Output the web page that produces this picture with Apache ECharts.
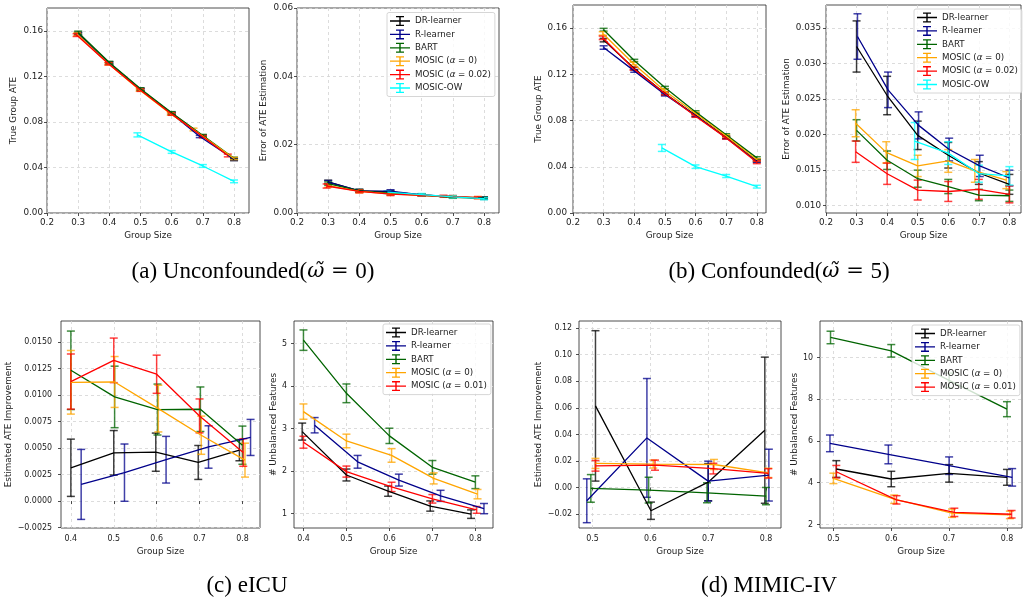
<!DOCTYPE html>
<html><head><meta charset="utf-8">
<script src="https://cdn.jsdelivr.net/npm/echarts@6/dist/echarts.min.js"></script>
<style>html,body{margin:0;padding:0;background:#fff}#c{width:1023px;height:602px}</style>
</head><body><div id="c"></div>
<script>
// ---------- names / colours ----------
const NAMES_TOP = ['DR-learner','R-learner','BART','MOSIC (α = 0)','MOSIC (α = 0.02)','MOSIC-OW'];
const NAMES_BOT = ['DR-learner','R-learner','BART','MOSIC (α = 0)','MOSIC (α = 0.01)'];
const COLORS = ['#000000','#00008b','#006400','#ffa500','#ff0000','#00ffff'];

// ---------- tick values ----------
const xTicksAB = [0.2,0.3,0.4,0.5,0.6,0.7,0.8];
const xTicksC = [0.4,0.5,0.6,0.7,0.8];
const xTicksD = [0.5,0.6,0.7,0.8];
const yTicksATE = [0,0.04,0.08,0.12,0.16];
const yTicksAR = [0,0.02,0.04,0.06];
const yTicksBR = [0.010,0.015,0.020,0.025,0.030,0.035];
const yTicksCL = [-0.0025,0,0.0025,0.005,0.0075,0.01,0.0125,0.015];
const yTicksCR = [1,2,3,4,5];
const yTicksDL = [-0.02,0,0.02,0.04,0.06,0.08,0.10,0.12];
const yTicksDR = [2,4,6,8,10];

// ---------- data: [x, mean, err] ----------
// (a) left: True Group ATE, unconfounded
const aL_dr   = [[0.3,0.1575,0.0012],[0.4,0.1315,0.0010],[0.5,0.1085,0.0010],[0.6,0.0875,0.0010],[0.7,0.0675,0.0010],[0.8,0.0470,0.0010]];
const aL_r    = [[0.3,0.1572,0.0012],[0.4,0.1318,0.0010],[0.5,0.1085,0.0010],[0.6,0.0872,0.0010],[0.69,0.0672,0.0010],[0.8,0.0472,0.0010]];
const aL_bart = [[0.3,0.1585,0.0012],[0.4,0.1322,0.0010],[0.5,0.1090,0.0010],[0.6,0.0880,0.0010],[0.7,0.0680,0.0010],[0.8,0.0480,0.0010]];
const aL_m0   = [[0.297,0.1570,0.0012],[0.397,0.1310,0.0010],[0.497,0.1080,0.0010],[0.597,0.0870,0.0010],[0.67,0.0733,0.0012],[0.8,0.0478,0.0010]];
const aL_m2   = [[0.295,0.1562,0.0012],[0.397,0.1310,0.0010],[0.5,0.1078,0.0010],[0.6,0.0868,0.0010],[0.7,0.0670,0.0010],[0.78,0.0505,0.0012]];
const aL_ow   = [[0.49,0.0686,0.0018],[0.6,0.0536,0.0012],[0.7,0.0413,0.0012],[0.8,0.0278,0.0012]];
// (a) right: Error of ATE Estimation
const aR_dr   = [[0.3,0.0091,0.0005],[0.4,0.0065,0.0004],[0.5,0.0062,0.0004],[0.6,0.0053,0.0003],[0.7,0.0047,0.0003],[0.8,0.0044,0.0003]];
const aR_r    = [[0.3,0.0090,0.0005],[0.4,0.0065,0.0004],[0.5,0.0064,0.0004],[0.6,0.0053,0.0003],[0.7,0.0048,0.0003],[0.8,0.0043,0.0003]];
const aR_bart = [[0.3,0.0086,0.0005],[0.4,0.0065,0.0004],[0.5,0.0058,0.0004],[0.6,0.0052,0.0003],[0.7,0.0046,0.0003],[0.8,0.0043,0.0003]];
const aR_m0   = [[0.3,0.0080,0.0005],[0.4,0.0063,0.0004],[0.5,0.0056,0.0004],[0.6,0.0052,0.0003],[0.7,0.0048,0.0003],[0.78,0.0045,0.0003]];
const aR_m2   = [[0.295,0.0079,0.0006],[0.4,0.0063,0.0004],[0.5,0.0055,0.0004],[0.6,0.0052,0.0003],[0.67,0.0049,0.0003],[0.78,0.0045,0.0003]];
const aR_ow   = [[0.49,0.0061,0.0004],[0.6,0.0054,0.0003],[0.7,0.0047,0.0003],[0.8,0.0042,0.0003]];
// (b) left: True Group ATE, confounded
const bL_dr   = [[0.3,0.1496,0.0015],[0.4,0.1250,0.0012],[0.5,0.1034,0.0012],[0.6,0.0845,0.0010],[0.7,0.0655,0.0010],[0.8,0.0453,0.0010]];
const bL_r    = [[0.3,0.1432,0.0015],[0.4,0.1230,0.0012],[0.5,0.1025,0.0012],[0.6,0.0843,0.0010],[0.7,0.0652,0.0010],[0.8,0.0448,0.0010]];
const bL_bart = [[0.3,0.1586,0.0012],[0.4,0.1320,0.0010],[0.5,0.1086,0.0010],[0.6,0.0875,0.0010],[0.7,0.0676,0.0010],[0.8,0.0477,0.0010]];
const bL_m0   = [[0.297,0.1554,0.0015],[0.397,0.1294,0.0012],[0.497,0.1063,0.0012],[0.6,0.0861,0.0010],[0.7,0.0667,0.0010],[0.8,0.0460,0.0010]];
const bL_m2   = [[0.297,0.1516,0.0015],[0.397,0.1250,0.0012],[0.5,0.1034,0.0012],[0.6,0.0838,0.0010],[0.7,0.0650,0.0010],[0.8,0.0439,0.0012]];
const bL_ow   = [[0.49,0.0563,0.0030],[0.6,0.0401,0.0015],[0.7,0.0320,0.0013],[0.8,0.0228,0.0012]];
// (b) right: Error of ATE Estimation
const bR_dr   = [[0.3,0.0324,0.0036],[0.4,0.0255,0.0027],[0.5,0.0199,0.0020],[0.6,0.0171,0.0018],[0.7,0.0146,0.0016],[0.8,0.0130,0.0014]];
const bR_r    = [[0.303,0.0338,0.0032],[0.403,0.0263,0.0025],[0.503,0.0213,0.0019],[0.603,0.0179,0.0016],[0.703,0.0156,0.0015],[0.8,0.0139,0.0011]];
const bR_bart = [[0.3,0.0206,0.0015],[0.4,0.0164,0.0013],[0.5,0.0138,0.0012],[0.6,0.0127,0.0010],[0.7,0.0115,0.0008],[0.8,0.0114,0.0008]];
const bR_m0   = [[0.297,0.0216,0.0019],[0.397,0.0175,0.0015],[0.5,0.0156,0.0015],[0.6,0.0163,0.0016],[0.687,0.0149,0.0016],[0.79,0.0136,0.0012]];
const bR_m2   = [[0.297,0.0176,0.0015],[0.4,0.0145,0.0015],[0.5,0.0122,0.0014],[0.6,0.0120,0.0014],[0.7,0.0123,0.0014],[0.8,0.0116,0.0012]];
const bR_ow   = [[0.49,0.0191,0.0026],[0.6,0.0174,0.0016],[0.7,0.0145,0.0012],[0.8,0.0142,0.0013]];
// (c) left: eICU Estimated ATE Improvement
const cL_dr   = [[0.4,0.00314,0.0027],[0.5,0.00455,0.0021],[0.598,0.00461,0.0018],[0.697,0.00364,0.0016],[0.793,0.0048,0.0010]];
const cL_r    = [[0.424,0.00157,0.0033],[0.525,0.00268,0.0027],[0.622,0.0039,0.0022],[0.721,0.0051,0.0020],[0.819,0.0060,0.0017]];
const cL_bart = [[0.4,0.01233,0.0037],[0.502,0.00982,0.0029],[0.602,0.00863,0.0024],[0.702,0.00866,0.0021],[0.8,0.00527,0.0018]];
const cL_m0   = [[0.4,0.0112,0.0030],[0.502,0.01123,0.0024],[0.604,0.00872,0.0022],[0.704,0.00621,0.0018],[0.806,0.00386,0.0016]];
const cL_m1   = [[0.4,0.01127,0.0026],[0.5,0.01327,0.0021],[0.6,0.01196,0.0018],[0.7,0.00803,0.0016],[0.802,0.00458,0.0013]];
// (c) right: eICU # Unbalanced Features
const cR_dr   = [[0.397,2.93,0.20],[0.5,1.91,0.14],[0.597,1.53,0.12],[0.695,1.18,0.12],[0.79,0.99,0.10]];
const cR_r    = [[0.426,3.08,0.18],[0.526,2.22,0.15],[0.622,1.79,0.14],[0.719,1.42,0.13],[0.82,1.12,0.12]];
const cR_bart = [[0.4,5.08,0.24],[0.5,3.83,0.22],[0.6,2.83,0.18],[0.7,2.09,0.16],[0.8,1.74,0.15]];
const cR_m0   = [[0.4,3.40,0.18],[0.5,2.71,0.16],[0.605,2.37,0.16],[0.703,1.83,0.13],[0.805,1.46,0.11]];
const cR_m1   = [[0.4,2.68,0.14],[0.5,1.99,0.13],[0.605,1.63,0.11],[0.7,1.35,0.10],[0.803,1.09,0.08]];
// (d) left: MIMIC-IV Estimated ATE Improvement
const dL_dr   = [[0.505,0.0614,0.0566],[0.601,-0.0175,0.0065],[0.7,0.0040,0.0140],[0.798,0.0431,0.0550]];
const dL_r    = [[0.49,-0.0100,0.0165],[0.594,0.0373,0.0447],[0.7,0.0048,0.0150],[0.805,0.0093,0.0195]];
const dL_bart = [[0.497,-0.0007,0.0104],[0.597,-0.0020,0.0097],[0.698,-0.0040,0.0075],[0.8,-0.0065,0.0065]];
const dL_m0   = [[0.505,0.0181,0.0038],[0.605,0.0176,0.0030],[0.71,0.0173,0.0038],[0.804,0.0110,0.0035]];
const dL_m1   = [[0.505,0.0163,0.0040],[0.608,0.0168,0.0038],[0.709,0.0142,0.0040],[0.804,0.0106,0.0035]];
// (d) right: MIMIC-IV # Unbalanced Features
const dR_dr   = [[0.505,4.65,0.40],[0.6,4.17,0.37],[0.7,4.44,0.42],[0.8,4.25,0.38]];
const dR_r    = [[0.494,5.88,0.40],[0.595,5.35,0.45],[0.7,4.81,0.42],[0.809,4.25,0.42]];
const dR_bart = [[0.495,10.96,0.30],[0.6,10.32,0.30],[0.7,8.90,0.35],[0.8,7.52,0.36]];
const dR_m0   = [[0.5,4.20,0.25],[0.605,3.20,0.20],[0.705,2.53,0.20],[0.805,2.45,0.18]];
const dR_m1   = [[0.505,4.52,0.30],[0.609,3.17,0.20],[0.709,2.57,0.20],[0.808,2.48,0.18]];

// ---------- layout ----------
const SANS = 'DejaVu Sans';
const SANS_B = "'DejaVu Sans Condensed', 'DejaVu Sans'";
const PANELS = [
  {grid:[47,8,202,205],  x:[0.2,0.848,xTicksAB,1], y:[0,0.18,yTicksATE,2], yName:'True Group ATE', yGap:29, yMargin:4, xMargin:5, xGap:18, fs:8.8, ff:SANS,
   names:NAMES_TOP, data:[aL_dr,aL_r,aL_bart,aL_m0,aL_m2,aL_ow]},
  {grid:[297,8,202,205], x:[0.2,0.848,xTicksAB,1], y:[0,0.06,yTicksAR,2], yName:'Error of ATE Estimation', yGap:29, yMargin:4, xMargin:5, xGap:18, fs:8.8, ff:SANS,
   names:NAMES_TOP, data:[aR_dr,aR_r,aR_bart,aR_m0,aR_m2,aR_ow]},
  {grid:[573,5,193,208], x:[0.2,0.83,xTicksAB,1], y:[0,0.18,yTicksATE,2], yName:'True Group ATE', yGap:29, yMargin:6, xMargin:5, xGap:18, fs:8.8, ff:SANS,
   names:NAMES_TOP, data:[bL_dr,bL_r,bL_bart,bL_m0,bL_m2,bL_ow]},
  {grid:[826,5,195,208], x:[0.2,0.838,xTicksAB,1], y:[0.008973,0.038236,yTicksBR,3], yName:'Error of ATE Estimation', yGap:35, yMargin:5, xMargin:5, xGap:18, fs:8.8, ff:SANS,
   names:NAMES_TOP, data:[bR_dr,bR_r,bR_bart,bR_m0,bR_m2,bR_ow]},
  {grid:[61,321,199,207], x:[0.377,0.841,xTicksC,1], y:[-0.00254,0.01698,yTicksCL,4], yName:'Estimated ATE Improvement', yGap:48, yMargin:9, xMargin:6, xGap:19, fs:8.8, ff:SANS_B,
   names:NAMES_BOT, data:[cL_dr,cL_r,cL_bart,cL_m0,cL_m1]},
  {grid:[294,321,199,207], x:[0.378,0.841,xTicksC,1], y:[0.664,5.53,yTicksCR,0], yName:'# Unbalanced Features', yGap:16, yMargin:7, xMargin:6, xGap:19, fs:8.8, ff:SANS_B,
   names:NAMES_BOT, data:[cR_dr,cR_r,cR_bart,cR_m0,cR_m1]},
  {grid:[579,321,202,207], x:[0.4765,0.826,xTicksD,1], y:[-0.0305,0.1253,yTicksDL,2], yName:'Estimated ATE Improvement', yGap:36, yMargin:7, xMargin:6, xGap:19, fs:8.8, ff:SANS_B,
   names:NAMES_BOT, data:[dL_dr,dL_r,dL_bart,dL_m0,dL_m1]},
  {grid:[820,321,202,207], x:[0.4768,0.826,xTicksD,1], y:[1.82,11.75,yTicksDR,0], yName:'# Unbalanced Features', yGap:21, yMargin:7, xMargin:6, xGap:19, fs:8.8, ff:SANS_B,
   names:NAMES_BOT, data:[dR_dr,dR_r,dR_bart,dR_m0,dR_m1]}
];
const LEGENDS = [
  {left:387, top:12.5, names:NAMES_TOP},
  {left:914, top:9, names:NAMES_TOP},
  {left:383, top:324, names:NAMES_BOT},
  {left:912, top:325, names:NAMES_BOT}
];
const CAPTIONS = [
  {text:'(a) Unconfounded({w|ω̃}{e| = }0)', x:253, y:260},
  {text:'(b) Confounded({w|ω̃}{e| = }5)', x:779, y:260},
  {text:'(c) eICU', x:247, y:574},
  {text:'(d) MIMIC-IV', x:769, y:574}
];

const fmt = (v, d) => { const s = (Math.abs(v) < 1e-12 ? 0 : v).toFixed(d); return s.replace('-', '\u2212'); };
const ERR_ICON = 'path://M0,4.35H20V5.65H0Z M9.3,0H10.7V10H9.3Z M6,0H14V1.3H6Z M6,8.7H14V10H6Z';

function errRender(params, api) {
  const x = api.value(0), y = api.value(1), e = api.value(2);
  const t = api.coord([x, y + e]);
  const b = api.coord([x, y - e]);
  const c = api.visual('color');
  const h = 4;
  const st = {stroke: c, lineWidth: 1.5, opacity: 0.75, fill: null};
  return {type:'group', children:[
    {type:'line', shape:{x1:t[0], y1:t[1], x2:b[0], y2:b[1]}, style:st},
    {type:'line', shape:{x1:t[0]-h, y1:t[1], x2:t[0]+h, y2:t[1]}, style:st},
    {type:'line', shape:{x1:b[0]-h, y1:b[1], x2:b[0]+h, y2:b[1]}, style:st}
  ]};
}

const grids = [], xAxes = [], yAxes = [], lineSeries = [], errSeries = [];
const AX = '#222';
const NAME_STYLE = {fontSize:8.8, fontFamily:SANS, color:AX};
PANELS.forEach((p, gi) => {
  grids.push({left:p.grid[0], top:p.grid[1], width:p.grid[2], height:p.grid[3], show:true, borderColor:AX, borderWidth:0.8, backgroundColor:'transparent'});
  const split = {show:true, lineStyle:{type:[3,3], color:'#d4d4d4', width:0.8}};
  xAxes.push({type:'value', gridIndex:gi, min:p.x[0], max:p.x[1],
    name:'Group Size', nameLocation:'middle', nameGap:p.xGap, nameTextStyle:NAME_STYLE,
    axisLine:{show:false}, axisTick:{show:true, length:3, customValues:p.x[2], lineStyle:{color:AX, width:0.8}},
    axisLabel:{customValues:p.x[2], formatter:(v)=>fmt(v,p.x[3]), margin:p.xMargin, fontSize:p.fs, fontFamily:p.ff, color:AX},
    splitLine:split});
  yAxes.push({type:'value', gridIndex:gi, min:p.y[0], max:p.y[1],
    name:p.yName, nameLocation:'middle', nameGap:p.yGap, nameTextStyle:NAME_STYLE,
    axisLine:{show:false}, axisTick:{show:true, length:3, customValues:p.y[2], lineStyle:{color:AX, width:0.8}},
    axisLabel:{customValues:p.y[2], formatter:(v)=>fmt(v,p.y[3]), margin:p.yMargin, fontSize:p.fs, fontFamily:p.ff, color:AX},
    splitLine:split});
  p.names.forEach((name, k) => {
    const pts = p.data[k];
    const col = COLORS[k];
    lineSeries.push({type:'line', name, xAxisIndex:gi, yAxisIndex:gi, data:pts.map(d=>[d[0],d[1]]),
      symbol:'none', itemStyle:{color:col}, lineStyle:{width:1.3, color:col}, z:3, silent:true});
    errSeries.push({type:'custom', name, xAxisIndex:gi, yAxisIndex:gi, data:pts, renderItem:errRender,
      encode:{x:0, y:1}, itemStyle:{color:col}, z:2, clip:true, silent:true});
  });
});

const legends = LEGENDS.map(l => ({
  orient:'vertical', left:l.left, top:l.top, data:l.names, icon:ERR_ICON,
  itemWidth:20, itemHeight:10, itemGap:3.4, padding:[3.5,4,3.5,3],
  backgroundColor:'rgba(255,255,255,0.8)', borderColor:'#cccccc', borderWidth:0.8, borderRadius:2,
  selectedMode:false,
  formatter:(n)=>n.replace('α','{i|α}'),
  textStyle:{fontSize:8.7, fontFamily:SANS, color:AX, lineHeight:10,
    rich:{i:{fontStyle:'italic', fontSize:8.7, fontFamily:SANS, color:AX, lineHeight:10}}}
}));

const titles = CAPTIONS.map(c => ({
  text:c.text, left:c.x, top:c.y, textAlign:'center', padding:0,
  textStyle:{fontFamily:"'Liberation Serif', 'DejaVu Serif', serif", fontSize:23, fontWeight:'normal', color:'#000',
    rich:{w:{fontFamily:"'DejaVu Serif', serif", fontStyle:'italic', fontSize:21, color:'#000'},
          e:{fontFamily:"'DejaVu Serif', serif", fontSize:21, color:'#000'}}}
}));

const chart = echarts.init(document.getElementById('c'), null, {renderer:'canvas'});
chart.setOption({
  animation:false, backgroundColor:'#fff',
  title:titles, legend:legends, grid:grids, xAxis:xAxes, yAxis:yAxes,
  series:lineSeries.concat(errSeries)
});
</script></body></html>
